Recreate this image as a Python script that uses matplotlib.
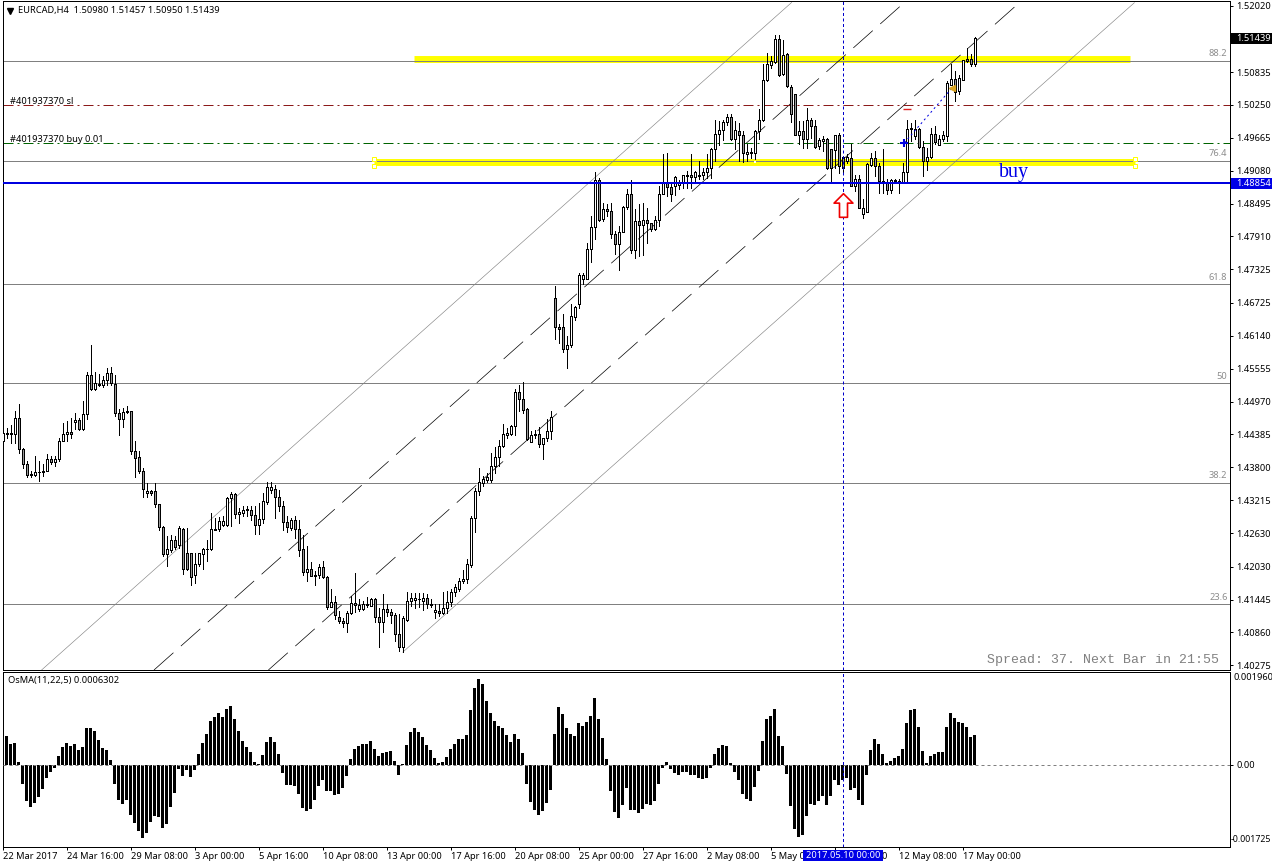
import matplotlib
matplotlib.use("Agg")
import matplotlib.pyplot as plt
import numpy as np
from matplotlib.lines import Line2D
from matplotlib.patches import Rectangle
from matplotlib.path import Path

plt.rcParams['font.family'] = ['Noto Sans', 'DejaVu Sans']
plt.rcParams['lines.scale_dashes'] = False

# EURCAD H4 quotes, in units of 0.0001
opens = [
    14426,14441,14441,14439,14468,14413,14386,14368,14367,14371,
    14371,14373,14395,14389,14395,14427,14439,14443,14460,14465,
    14448,14475,14545,14519,14529,14527,14535,14548,14528,14477,
    14466,14480,14480,14409,14398,14374,14334,14338,14337,14315,
    14274,14225,14232,14251,14241,14270,14228,14228,14188,14207,
    14226,14234,14234,14269,14271,14277,14277,14325,14333,14296,
    14298,14304,14304,14295,14277,14288,14318,14340,14342,14328,
    14312,14283,14272,14286,14270,14234,14194,14199,14189,14188,
    14203,14185,14132,14141,14114,14107,14103,14120,14139,14127,
    14128,14136,14134,14145,14114,14105,14128,14123,14117,14084,
    14060,14109,14142,14144,14145,14142,14148,14137,14123,14124,
    14121,14130,14141,14158,14163,14177,14182,14206,14290,14337,
    14352,14358,14358,14382,14398,14418,14437,14440,14453,14514,
    14502,14483,14425,14438,14440,14422,14432,14444,14682,14629,
    14629,14591,14597,14648,14671,14715,14716,14769,14808,14891,
    14822,14840,14836,14796,14778,14799,14844,14866,14767,14818,
    14811,14820,14814,14805,14820,14867,14888,14879,14881,14882,
    14888,14899,14900,14897,14900,14901,14906,14912,14947,14974,
    14980,14995,15004,14964,14978,14972,14937,14940,14940,14978,
    14999,15069,15096,15102,15143,15080,15115,15057,15044,14972,
    14978,14965,14999,14987,14952,14961,14965,14946,14945,14972,
    14933,14925,14930,14880,14894,14831,14835,14918,14930,14916,
    14889,14888,14873,14889,14888,14888,14906,14982,14969,14982,
    14950,14925,14933,14974,14953,14964,14970,15061,15071,15050,
    15070,15107,15107,15098,
]
highs = [
    14444,14450,14456,14481,14492,14414,14392,14373,14401,14391,
    14385,14404,14400,14401,14432,14459,14462,14468,14476,14468,
    14498,14549,14598,14549,14546,14542,14557,14558,14545,14483,
    14486,14489,14481,14426,14409,14379,14352,14340,14352,14315,
    14275,14257,14259,14257,14275,14272,14272,14228,14228,14228,
    14237,14251,14298,14290,14291,14293,14328,14336,14334,14308,
    14311,14311,14311,14311,14317,14334,14353,14353,14349,14340,
    14320,14293,14290,14293,14287,14260,14240,14212,14195,14207,
    14213,14186,14164,14151,14124,14112,14124,14151,14191,14146,
    14142,14150,14148,14148,14130,14154,14136,14127,14121,14118,
    14115,14158,14157,14157,14156,14156,14154,14145,14136,14136,
    14158,14160,14163,14172,14183,14198,14216,14293,14343,14379,
    14364,14369,14405,14416,14428,14457,14450,14456,14520,14527,
    14532,14485,14445,14447,14452,14432,14466,14480,14703,14635,
    14652,14614,14670,14667,14726,14726,14779,14828,14906,14895,
    14851,14848,14851,14801,14809,14845,14876,14891,14839,14848,
    14851,14842,14815,14827,14881,14937,14940,14887,14898,14892,
    14901,14908,14937,14908,14925,14913,14937,14949,14999,14996,
    14999,15008,15008,14996,14993,14978,14955,14949,14981,15017,
    15097,15118,15112,15150,15150,15141,15118,15061,15045,14996,
    14996,15020,15002,14999,14966,14969,14966,14946,14972,14975,
    14934,14937,14955,14901,14901,14857,14922,14940,14943,14922,
    14946,14894,14894,14894,14894,14922,14999,14993,14999,14984,
    14961,14949,14984,14988,14972,14978,15067,15097,15085,15079,
    15105,15127,15115,15146,
]
lows = [
    14423,14432,14423,14423,14406,14379,14362,14362,14364,14355,
    14364,14373,14385,14383,14391,14426,14426,14432,14449,14447,
    14447,14466,14518,14518,14524,14523,14527,14527,14471,14438,
    14451,14477,14404,14362,14369,14328,14328,14330,14309,14269,
    14222,14205,14229,14234,14237,14190,14198,14171,14174,14205,
    14199,14213,14232,14268,14266,14275,14275,14275,14289,14281,
    14293,14293,14287,14261,14262,14281,14314,14334,14290,14302,
    14269,14264,14269,14254,14222,14188,14177,14186,14171,14183,
    14183,14128,14132,14110,14102,14096,14087,14118,14122,14125,
    14126,14132,14133,14105,14060,14086,14115,14102,14071,14053,
    14051,14106,14134,14130,14132,14126,14130,14132,14112,14116,
    14118,14121,14133,14151,14160,14174,14174,14202,14265,14330,
    14346,14354,14354,14369,14382,14416,14432,14437,14438,14481,
    14477,14428,14425,14432,14416,14394,14427,14431,14608,14602,
    14585,14557,14595,14643,14664,14707,14715,14745,14787,14818,
    14818,14827,14789,14759,14731,14798,14839,14762,14753,14756,
    14758,14780,14801,14802,14809,14866,14863,14854,14864,14876,
    14878,14878,14878,14890,14894,14894,14895,14895,14925,14953,
    14962,14990,14962,14946,14925,14924,14925,14931,14928,14964,
    14996,15067,15090,15100,15077,15079,15057,14994,14972,14956,
    14949,14949,14966,14949,14946,14943,14911,14886,14913,14903,
    14904,14922,14880,14872,14842,14823,14834,14916,14898,14869,
    14869,14866,14869,14886,14869,14886,14886,14961,14964,14949,
    14898,14910,14931,14956,14953,14961,14961,15061,15032,15044,
    15069,15101,15094,15095,
]
closes = [
    14441,14440,14439,14468,14413,14386,14366,14366,14372,14372,
    14374,14395,14389,14395,14427,14439,14443,14439,14465,14448,
    14475,14545,14519,14530,14527,14535,14548,14530,14477,14466,
    14479,14478,14409,14397,14373,14342,14337,14334,14315,14273,
    14225,14235,14250,14238,14272,14199,14199,14185,14208,14227,
    14234,14235,14270,14270,14285,14285,14326,14333,14297,14300,
    14304,14305,14295,14277,14288,14320,14345,14345,14328,14312,
    14283,14274,14286,14271,14232,14194,14199,14186,14187,14203,
    14185,14132,14141,14117,14106,14103,14121,14139,14135,14135,
    14137,14135,14145,14114,14105,14128,14122,14117,14083,14060,
    14111,14142,14148,14148,14146,14148,14136,14135,14126,14121,
    14130,14141,14158,14167,14178,14182,14207,14290,14338,14354,
    14360,14362,14382,14398,14418,14440,14441,14453,14514,14502,
    14482,14431,14437,14440,14422,14432,14445,14469,14629,14627,
    14591,14598,14649,14666,14722,14722,14769,14808,14891,14821,
    14840,14836,14796,14777,14799,14844,14867,14767,14818,14811,
    14820,14814,14804,14820,14867,14888,14879,14867,14897,14888,
    14900,14900,14897,14906,14899,14906,14913,14947,14974,14980,
    14995,15004,14964,14980,14971,14940,14942,14942,14978,14999,
    15070,15098,15103,15143,15079,15114,15058,15008,14972,14978,
    14965,14999,14987,14950,14962,14965,14913,14913,14972,14916,
    14913,14933,14880,14894,14842,14842,14919,14930,14916,14889,
    14886,14873,14892,14892,14890,14906,14982,14984,14982,14950,
    14925,14933,14974,14959,14965,14971,15064,15071,15048,15073,
    15105,15103,15097,15144,
]
# OsMA(11,22,5) histogram, in units of 0.00001
osma = [
    65,61,44,46,6,-41,-77,-90,-81,-68,
    -52,-28,-16,-7,18,37,46,40,44,31,
    37,78,76,71,52,35,31,10,-41,-75,
    -83,-75,-107,-124,-140,-155,-145,-121,-109,-111,
    -134,-126,-90,-60,-9,-24,-11,-26,-11,23,
    46,65,92,101,109,101,116,124,95,71,
    50,37,26,6,1,20,48,59,48,23,
    -18,-43,-43,-45,-62,-92,-98,-94,-75,-45,
    -32,-56,-55,-64,-62,-49,-24,12,33,40,
    44,44,50,33,18,25,27,29,8,-22,
    1,42,69,78,69,59,42,31,14,3,
    6,16,33,44,54,54,63,114,162,181,
    169,133,109,92,82,78,63,48,65,54,
    25,-41,-79,-96,-107,-98,-81,-54,65,122,
    107,76,65,61,88,82,90,103,141,97,
    56,12,-56,-100,-113,-85,-49,-96,-96,-102,
    -94,-83,-85,-77,-41,-7,6,-9,-18,-22,
    -16,-16,-22,-22,-28,-30,-28,-7,23,35,
    42,40,3,-16,-32,-62,-73,-77,-47,-13,
    50,95,103,116,61,40,-20,-88,-136,-153,
    -149,-109,-83,-85,-77,-66,-85,-66,-32,-43,
    -32,-28,-54,-49,-75,-85,-22,31,54,44,
    23,4,8,14,18,33,88,114,116,80,
    29,3,18,23,27,27,80,109,99,90,
    88,80,59,63.02,
]

price_ticks = [1.52020, 1.50835, 1.50250, 1.49665, 1.49080, 1.48495, 1.47910, 1.47325,
               1.46725, 1.46140, 1.45555, 1.44970, 1.44385, 1.43800, 1.43215, 1.42630,
               1.42030, 1.41445, 1.40860, 1.40275]
time_labels = ['22 Mar 2017', '24 Mar 16:00', '29 Mar 08:00', '3 Apr 00:00', '5 Apr 16:00',
               '10 Apr 08:00', '13 Apr 00:00', '17 Apr 16:00', '20 Apr 08:00', '25 Apr 00:00',
               '27 Apr 16:00', '2 May 08:00', '5 May 00:00', '9 May 16:00', '12 May 08:00',
               '17 May 00:00']
fibo_levels = [1.51041, 1.49261, 1.47054, 1.45292, 1.43529, 1.41358]
fibo_names = ['88.2', '76.4', '61.8', '50', '38.2', '23.6']

# Trend channel: (bar, price) end points
channel_solid = [((9.7, 1.40192), (197.2, 1.52074)), ((100.0, 1.4051), (282.9, 1.5207))]
channel_dashed = [((37.8, 1.40192), (225.4, 1.52074)), ((66.4, 1.40192), (254.2, 1.52074))]

last_open, last_high, last_low, last_close = '1.50980', '1.51457', '1.50950', '1.51439'
bid_price = 1.51439
entry_alert = 1.48854
sl_price = 1.50252
buy_price = 1.49576
crosshair_bar = 210
crosshair_time = '2017.05.10 00:00'

W, H = 1272, 867
FONT = 6.7
PX = 0.72
fig = plt.figure(figsize=(W / 100, H / 100), dpi=100, facecolor='white')


def box(left, top, right, bottom):
    return [left / W, 1 - bottom / H, (right - left) / W, (bottom - top) / H]


def fx(px):
    return px / W


def fy(py):
    return 1 - py / H


ax = fig.add_axes(box(2.5, 0.5, 1229.5, 670.0))
sub = fig.add_axes(box(2.5, 671.5, 1229.5, 846.5))

bars = np.arange(len(opens))
o = np.array(opens) / 1e4
h = np.array(highs) / 1e4
l = np.array(lows) / 1e4
c = np.array(closes) / 1e4
xlim = (-0.075, 306.675)

for a in (ax, sub):
    a.set_xlim(*xlim)
    for s in a.spines.values():
        s.set_linewidth(PX)
        s.set_color('black')

ax.set_ylim(1.40192, 1.52109)
sub.set_ylim(-0.001725, 0.00196)

# Fibonacci levels
for lev, name in zip(fibo_levels, fibo_names):
    ax.axhline(lev, color='#808080', lw=PX, zorder=2)
    ax.annotate(name, (1, lev), xycoords=ax.get_yaxis_transform(), xytext=(-1.5, 1.5),
                textcoords='offset points', ha='right', va='bottom', color='#8c8c8c',
                fontsize=FONT)

# Highlighted yellow levels
ax.plot([102.9, 281.9], [1.51068, 1.51068], color='#ffff00', lw=5, solid_capstyle='butt', zorder=1)
ax.plot([92.9, 283.0], [1.49234, 1.49234], color='#ffff00', lw=5, solid_capstyle='butt', zorder=1)
for b in (92.9, 283.0):
    ax.plot([b, b], [1.49288, 1.49172], ls='none', marker='s', ms=3.2, mfc='white',
            mec='#ffff00', mew=PX, zorder=5)
ax.plot([188], [1.49234], ls='none', marker='s', ms=2.1, mfc='white', mew=0, zorder=5)

# Channel lines
for (p, q) in channel_solid:
    ax.plot([p[0], q[0]], [p[1], q[1]], color='#808080', lw=0.6 * PX, zorder=2)
for (p, q) in channel_dashed:
    ax.plot([p[0], q[0]], [p[1], q[1]], color='black', lw=0.7 * PX, zorder=2,
            dashes=(26 * PX, 10 * PX), dash_capstyle='butt')

# Order levels
dash_dot = (10 * PX, 4 * PX, 2 * PX, 4 * PX)
ax.axhline(sl_price, color='#8b1a1a', lw=PX, dashes=dash_dot, zorder=2)
ax.axhline(buy_price, color='#006400', lw=PX, dashes=dash_dot, zorder=2)
ax.axhline(entry_alert, color='#0000e0', lw=2 * PX, zorder=5)

# Candles
up = c >= o
fills = ['white' if u else '#999999' for u in up]
ax.vlines(bars, l, h, color='black', lw=PX, antialiased=False, zorder=3)
ax.bar(bars, np.abs(c - o), bottom=np.minimum(o, c), width=0.5, color=fills,
       edgecolor='black', linewidth=PX, antialiased=False, zorder=4)

# Open trade marks
ax.plot([225.4, 237.4], [buy_price, 1.50560], color='#0000e0', lw=PX,
        dashes=(2 * PX, 3 * PX), zorder=6)
ax.plot([225.4], [buy_price], marker='+', ms=6, mew=1.5, color='#0000e0', zorder=7)
ax.plot([237.4], [1.50560], marker='<', ms=5, color='#daa520', mec='#daa520', zorder=7)
ax.plot([226.0], [1.50181], marker='_', ms=5.5, mew=1.0, color='#e02020', zorder=7)

# Hollow up arrow under the signal bar
arrow = Path([(0, 1), (0.8, 0.2), (0.34, 0.2), (0.34, -1), (-0.34, -1), (-0.34, 0.2),
              (-0.8, 0.2), (0, 1)], closed=True)
ax.plot([crosshair_bar], [1.48469], marker=arrow, ms=17, mfc='white', mec='#ee0000',
        mew=1.2, ls='none', zorder=8)

# Crosshair
for a in (ax, sub):
    a.axvline(crosshair_bar, color='#0000cc', lw=PX, dashes=(3 * PX, 2.5 * PX), zorder=6)

ax.annotate('buy', (1014 / W, fy(173)), xycoords='figure fraction', ha='center', va='center',
            color='#0000e6', fontsize=14.4, family='Liberation Serif', zorder=9)

# Price axis
ax.yaxis.tick_right()
ax.set_yticks(price_ticks)
ax.set_yticklabels([f'{t:.5f}' for t in price_ticks], fontsize=FONT)
ax.tick_params(axis='y', length=2.4, width=PX, pad=2.5, color='black')
ax.tick_params(axis='x', length=0, labelbottom=False)


def price_tag(a, price, bg, fg='white'):
    tr = a.get_yaxis_transform()
    half = 5.5 * 0.000178
    a.add_patch(Rectangle((1.0012, price - half), 0.04, 2 * half, transform=tr,
                          facecolor=bg, edgecolor='none', clip_on=False, zorder=10))
    a.text(1.0055, price, f'{price:.5f}', transform=tr, color=fg, fontsize=FONT,
           va='center', ha='left', clip_on=False, zorder=11)


price_tag(ax, bid_price, 'black')
price_tag(ax, entry_alert, '#0000e6')

# Oscillator panel
sub.bar(bars, np.array(osma) * 1e-5, width=0.74, color='black', linewidth=0,
        antialiased=False, zorder=3)
sub.axhline(0, color='#808080', lw=PX, dashes=(3 * PX, 3 * PX), zorder=4)
sub.yaxis.tick_right()
sub.set_yticks([0.0])
sub.set_yticklabels(['0.00'], fontsize=FONT)
sub.tick_params(axis='y', length=2.4, width=PX, pad=2.5)
sub.set_xticks(np.arange(len(time_labels)) * 16)
sub.set_xticklabels(time_labels, fontsize=FONT, ha='left')
sub.tick_params(axis='x', length=2.4, width=PX, pad=1.6)
fig.text(fx(1233), fy(678), '0.001960', fontsize=FONT, va='center', ha='left')
fig.text(fx(1271.5), fy(839), '-0.001725', fontsize=6.3, va='center', ha='right')

# Header and chart annotations
fig.add_artist(Line2D([fx(10)], [fy(10.5)], marker='v', ms=4.5, color='black',
                      transform=fig.transFigure))
header = f'EURCAD,H4  {last_open} {last_high} {last_low} {last_close}'
fig.text(fx(18), fy(11), header, fontsize=FONT, va='center', ha='left')
fig.text(fx(10), fy(101), '#401937370 sl', fontsize=FONT, va='center', ha='left')
fig.text(fx(10), fy(139), '#401937370 buy 0.01', fontsize=FONT, va='center', ha='left')
fig.text(fx(8), fy(680), 'OsMA(11,22,5) 0.0006302', fontsize=FONT, va='center', ha='left')
fig.text(fx(987), fy(660.5), 'Spread: 37. Next Bar in 21:55', fontsize=9.55,
         family='Liberation Mono', color='#808080', va='center', ha='left')

# Date tag of the crosshair
fig.add_artist(Rectangle((fx(803), fy(861)), 80 / W, 11.5 / H, transform=fig.transFigure,
                         facecolor='#0000e6', edgecolor='none', zorder=5))
fig.text(fx(843), fy(855.5), crosshair_time, fontsize=FONT, color='white', va='center',
         ha='center', zorder=6)

fig.savefig('out.png', dpi=100, facecolor='white')
